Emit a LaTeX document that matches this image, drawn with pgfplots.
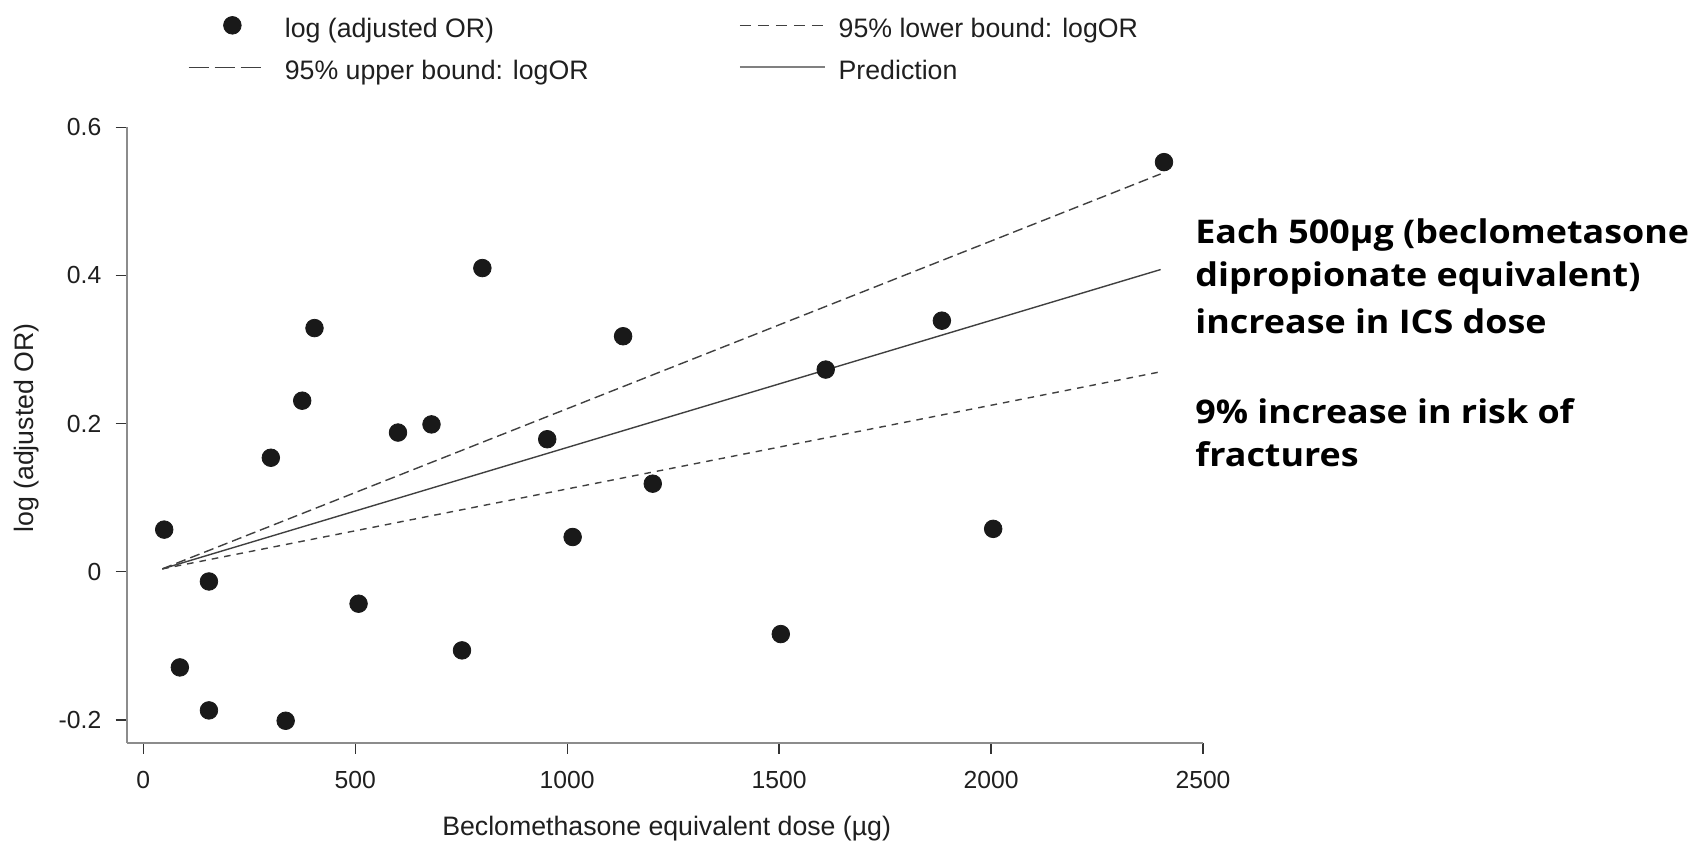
\documentclass[border=0pt]{standalone}
\usepackage{fontspec}
\setmainfont{Liberation Sans}
\newfontfamily\annofont{Open Sans}[FakeStretch=1.10]
\usepackage{pgfplots}
\usepackage{pgfplotstable}
\pgfplotsset{compat=1.18}

% legend samples: dot, short dashes, long dashes, solid line
\pgfplotsset{
  leg dot/.style={legend image code/.code={%
    \draw[mark repeat=2, mark phase=2, ##1] plot coordinates {(0pt,6pt) (21.85pt,6pt) (43.7pt,6pt)};
    \path (0pt,6pt) (47.75pt,6pt);}},
  leg lower/.style={legend image code/.code={%
    \draw[##1, dash pattern=on 5.5pt off 3.5pt] (0pt,6pt) -- (41.5pt,6pt);
    \path (49pt,6pt);}},
  leg upper/.style={legend image code/.code={%
    \draw[##1, dash pattern=on 10pt off 3pt] (0pt,6pt) -- (36pt,6pt);
    \path (47.75pt,6pt);}},
  leg pred/.style={legend image code/.code={%
    \draw[##1, black!50, line width=1pt] (0pt,6pt) -- (42.5pt,6pt);
    \path (49pt,6pt);}},
}

% dose (beclomethasone equivalent, ug) and log of the adjusted odds ratio
\pgfplotstableread{
dose logor
49.5  0.057
86.4  -0.129
155   -0.013
155   -0.187
301   0.154
336   -0.201
375   0.231
404   0.329
508   -0.043
601   0.188
680   0.199
752   -0.106
800   0.410
953   0.179
1013  0.047
1132  0.318
1202  0.119
1504  -0.084
1610  0.273
1884  0.339
2005  0.058
2408  0.553
}\pointdata

\begin{document}
\begin{tikzpicture}
\begin{axis}[
  scale only axis,
  width=538.15pt, height=307.7pt,
  at={(0pt,0pt)}, anchor=south west,
  xmin=-39, xmax=2500, ymin=-0.2306, ymax=0.6,
  axis x line*=bottom, axis y line*=left,
  axis line style={black!45, line width=1pt},
  xtick={0,500,1000,1500,2000,2500},
  ytick={-0.2,0,0.2,0.4,0.6},
  minor tick num=0,
  tick align=outside, major tick length=5.5pt,
  tick style={black!80, line width=0.6pt},
  /pgf/number format/assume math mode=true,
  /pgf/number format/1000 sep={},
  scaled ticks=false,
  ticklabel style={font=\fontsize{12.35}{14}\selectfont, text=black!88},
  xticklabel style={inner sep=0pt, anchor=north, yshift=-8.5pt},
  yticklabel style={inner sep=0pt, anchor=east, xshift=-7pt},
  xlabel={Beclomethasone equivalent dose (µg)},
  ylabel={log (adjusted OR)},
  every axis x label/.style={at={(axis description cs:0.5017,-0.15)}, anchor=base,
    font=\fontsize{13.35}{16}\selectfont, text=black!88},
  every axis y label/.style={at={(axis description cs:-0.0929,0.5114)}, anchor=center,
    rotate=90, font=\fontsize{13.35}{16}\selectfont, text=black!88},
  clip=false,
  legend columns=2,
  legend style={
    draw=none, fill=none,
    inner sep=0pt, outer sep=0pt,
    at={(0.05695,1.18)}, anchor=north west,
    font=\fontsize{13.35}{16}\selectfont,
    text=black!88,
    cells={anchor=base west},
    nodes={inner sep=0pt, text height=9.5pt, text depth=3pt},
    row sep=8.5pt,
    /tikz/every even column/.append style={column sep=75.15pt},
  },
]
\addplot[only marks, mark=*, mark size=4.4pt, black!90, leg dot]
  table[x=dose, y=logor] {\pointdata};
\addlegendentry{log (adjusted OR)}

\addplot[black!75, line width=0.7pt, dash pattern=on 3.3pt off 3pt, leg lower]
  coordinates {(45,0.004) (2400,0.270)};
\addlegendentry{95\% lower bound: logOR}

\addplot[black!75, line width=0.7pt, dash pattern=on 5pt off 2.5pt, leg upper]
  coordinates {(45,0.004) (2400,0.537)};
\addlegendentry{95\% upper bound: logOR}

\addplot[black!75, line width=0.7pt, leg pred]
  coordinates {(45,0.004) (2400,0.408)};
\addlegendentry{Prediction}
\end{axis}

\begin{scope}[every node/.style={anchor=base west, inner sep=0pt,
    font=\annofont\bfseries\fontsize{16.3}{20}\selectfont}]
\node at (534.15pt,249.7pt) {Each 500µg (beclometasone};
\node at (534.15pt,228pt) {dipropionate equivalent)};
\node at (534.15pt,204.7pt) {increase in ICS dose};
\node at (534.15pt,159.7pt) {9\% increase in risk of};
\node at (534.15pt,138pt) {fractures};
\end{scope}

\pgfresetboundingbox
\path[use as bounding box] (-63.35pt,-51.15pt) rectangle (786.15pt,371.35pt);
\end{tikzpicture}
\end{document}
